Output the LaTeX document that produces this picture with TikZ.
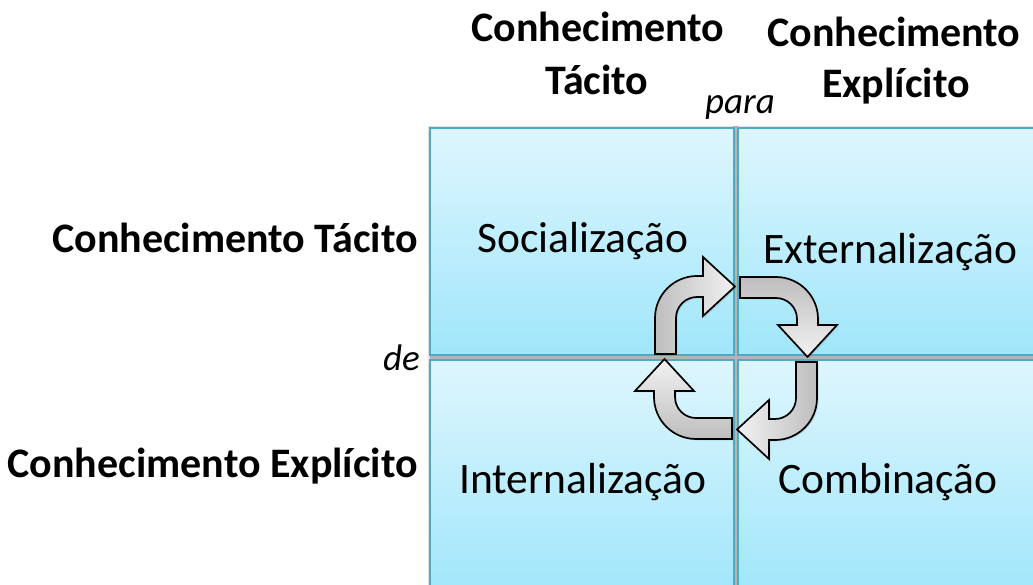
\documentclass[tikz,border=0pt]{standalone}
\usepackage{fontspec}
\setmainfont{Carlito}
\usetikzlibrary{shadows}
\definecolor{boxtop}{HTML}{DEF6FD}
\definecolor{boxbot}{HTML}{A0E6FB}
\definecolor{boxline}{HTML}{4BACC6}
\definecolor{gapgray}{HTML}{B4B4B4}
\definecolor{arrdark}{HTML}{BEBEBE}
\definecolor{arrlight}{HTML}{F2F2F2}
\tikzset{
  quadbox/.style={draw=boxline, line width=2pt, top color=boxtop, bottom color=boxbot},
  headtxt/.style={font=\fontsize{42}{50}\selectfont\bfseries, inner sep=0pt, anchor=base},
  quadtxt/.style={font=\fontsize{43.5}{52}\selectfont, inner sep=0pt, anchor=base},
  smalltxt/.style={font=\fontsize{37}{42}\selectfont\itshape, inner sep=0pt, anchor=base},
  cyclearrow/.style={draw=black, line width=1.7pt, line join=miter,
    drop shadow={shadow xshift=1.5pt, shadow yshift=-1.5pt, opacity=0.22}}
}
\newcommand{\bentarrowpath}{(-81,4) -- (-81,40) arc[start angle=180, end angle=90, radius=42]
  -- (-33,82) -- (-33,101) -- (-1,71.5) -- (-33,42) -- (-33,61) -- (-39,61)
  arc[start angle=90, end angle=180, radius=21] -- (-60,4) -- cycle}
\begin{document}
\begin{tikzpicture}[x=1pt,y=1pt]
\useasboundingbox (0,0) rectangle (1033,584);
% gap / soft shadow behind boxes
\fill[gapgray!40] (427.5,-10) rectangle (1040,458);
\fill[gapgray] (733,-10) rectangle (738,458);
\fill[gapgray] (430,223.5) rectangle (1040,229.5);
% quadrants
\path[quadbox] (430,229) rectangle (733.5,456);
\path[quadbox] (737.5,229) rectangle (1045,456);
\path[quadbox] (430,-12) rectangle (733.5,224);
\path[quadbox] (737.5,-12) rectangle (1045,224);
% cycle arrows
\coordinate (cc) at (736,226);
\begin{scope}[shift={(cc)}]
  \path[cyclearrow, left color=arrdark, right color=arrlight] \bentarrowpath;
\end{scope}
\begin{scope}[shift={(cc)}, rotate=-90]
  \path[cyclearrow, top color=arrdark, bottom color=arrlight] \bentarrowpath;
\end{scope}
\begin{scope}[shift={(cc)}, rotate=180]
  \path[cyclearrow, right color=arrdark, left color=arrlight] \bentarrowpath;
\end{scope}
\begin{scope}[shift={(cc)}, rotate=90]
  \path[cyclearrow, bottom color=arrdark, top color=arrlight] \bentarrowpath;
\end{scope}
% headers
\node[headtxt] (tl1) at (598,542) {Conhecimento};
\node[headtxt] (tl2) at (597,489) {Tácito};
\node[headtxt] (tr1) at (894,537) {Conhecimento};
\node[headtxt] (tr2) at (896,486) {Explícito};
\node[smalltxt] (para) at (740,470) {para};
\node[headtxt, anchor=base east] (lt) at (418,331) {Conhecimento Tácito};
\node[smalltxt, anchor=base east] (de) at (420,213) {de};
\node[headtxt, anchor=base east] (le) at (418,107) {Conhecimento Explícito};
% quadrant labels
\node[quadtxt] (soc) at (583,331) {Socialização};
\node[quadtxt] (ext) at (890,320) {Externalização};
\node[quadtxt] (int) at (583,91) {Internalização};
\node[quadtxt] (com) at (888,91) {Combinação};
\end{tikzpicture}
\end{document}
